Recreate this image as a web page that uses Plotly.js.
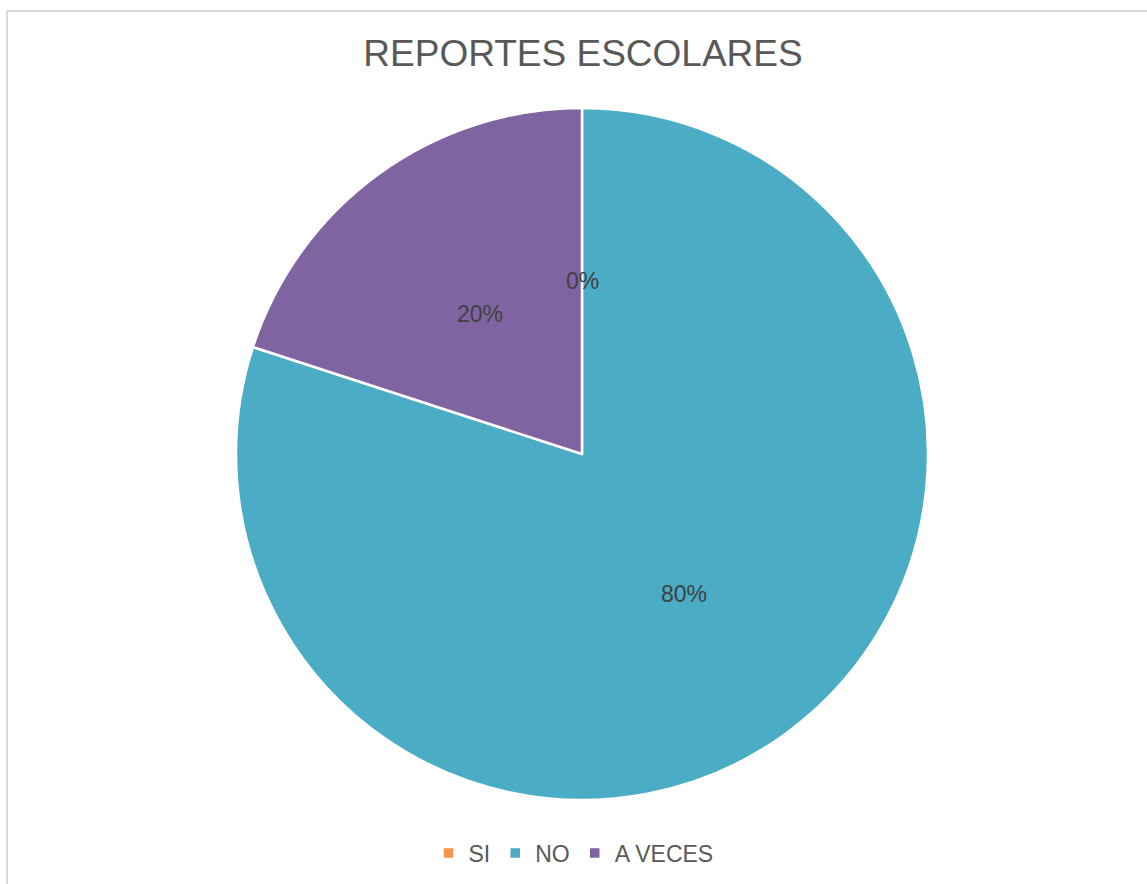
<!DOCTYPE html>
<html>
<head>
<meta charset="utf-8">
<script src="https://cdn.plot.ly/plotly-3.0.1.min.js"></script>
<style>
  html, body { margin: 0; padding: 0; background: #fff; overflow: hidden; }
  #chart { width: 1147px; height: 884px; position: absolute; left: 0; top: 0; }
  #frame { position: absolute; left: 6px; top: 10px; width: 1300px; height: 1000px;
           border: 2px solid #d9d9d9; pointer-events: none; box-sizing: border-box; }
</style>
</head>
<body>
<div id="chart"></div>
<div id="frame"></div>
<script>
const categories = ["SI", "NO", "A VECES"];
const values = [0, 80, 20];
const colors = ["#F79646", "#4BACC6", "#8064A2"];
const chartTitle = "REPORTES ESCOLARES";

const W = 1147, H = 884;
const cx = 582, cy = 454, R = 346;
const domX = [(cx - R) / W, (cx + R) / W];
const domY = [(H - (cy + R)) / H, (H - (cy - R)) / H];

const total = values.reduce((a, b) => a + b, 0);
let cum = 0;
const annotations = values.map((v, i) => {
  const mid = (cum + v / 2) / total * 2 * Math.PI; // clockwise from top
  cum += v;
  const px = cx + 0.5 * R * Math.sin(mid);
  const py = cy - 0.5 * R * Math.cos(mid);
  return {
    x: px / W, y: 1 - py / H, xref: "paper", yref: "paper",
    text: Math.round(v / total * 100) + "%",
    showarrow: false,
    font: { family: "Liberation Sans, Arial, sans-serif", size: 23, color: "#404040" },
    xanchor: "center", yanchor: "middle"
  };
});

const trace = {
  type: "pie",
  labels: categories,
  values: values,
  sort: false,
  direction: "clockwise",
  rotation: 0,
  marker: { colors: colors, line: { color: "#ffffff", width: 2.5 } },
  textinfo: "none",
  hoverinfo: "label+percent",
  domain: { x: domX, y: domY }
};

const layout = {
  width: W, height: H,
  margin: { l: 0, r: 0, t: 0, b: 0 },
  paper_bgcolor: "rgba(0,0,0,0)",
  plot_bgcolor: "rgba(0,0,0,0)",
  title: {
    text: chartTitle,
    x: 583 / W, xanchor: "center",
    y: 1 - 53 / H, yanchor: "middle",
    font: { family: "Liberation Sans, Arial, sans-serif", size: 37, color: "#595959" }
  },
  showlegend: true,
  legend: {
    orientation: "h",
    x: 0.5, xanchor: "center",
    y: 1 - 853 / H, yanchor: "middle",
    font: { family: "Liberation Sans, Arial, sans-serif", size: 23, color: "#595959" },
    itemwidth: 30,
    traceorder: "normal"
  },
  annotations: annotations
};

Plotly.newPlot("chart", [trace], layout, { displayModeBar: false, staticPlot: true });
</script>
</body>
</html>
